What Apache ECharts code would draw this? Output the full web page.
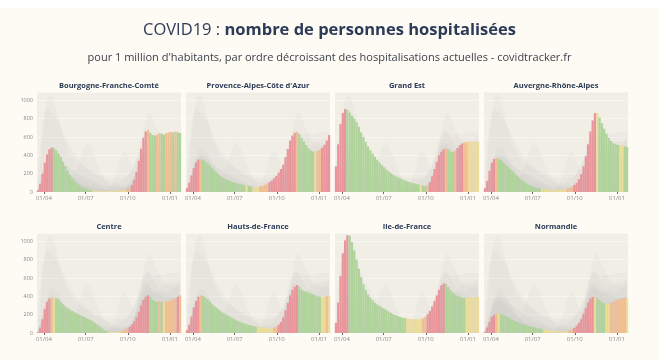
<!DOCTYPE html>
<html><head><meta charset="utf-8">
<script src="https://cdn.jsdelivr.net/npm/echarts@6/dist/echarts.min.js"></script>
<style>
html,body{margin:0;padding:0;background:#fdfbf4;}
#chart{width:659px;height:360px;}
#topstrip{position:absolute;left:0;top:0;width:659px;height:8px;background:#ffffff;}
</style>
</head><body>
<div id="chart"></div><div id="topstrip"></div>
<script>
// ---- DATA ----
const dates = ['2020-03-19','2020-03-24','2020-03-29','2020-04-03','2020-04-08','2020-04-13','2020-04-18','2020-04-23','2020-04-28','2020-05-03',
'2020-05-08','2020-05-13','2020-05-18','2020-05-23','2020-05-28','2020-06-02','2020-06-07','2020-06-12','2020-06-17','2020-06-22',
'2020-06-27','2020-07-02','2020-07-07','2020-07-12','2020-07-17','2020-07-22','2020-07-27','2020-08-01','2020-08-06','2020-08-11',
'2020-08-16','2020-08-21','2020-08-26','2020-08-31','2020-09-05','2020-09-10','2020-09-15','2020-09-20','2020-09-25','2020-09-30',
'2020-10-05','2020-10-10','2020-10-15','2020-10-20','2020-10-25','2020-10-30','2020-11-04','2020-11-09','2020-11-14','2020-11-19',
'2020-11-24','2020-11-29','2020-12-04','2020-12-09','2020-12-14','2020-12-19','2020-12-24','2020-12-29','2021-01-03','2021-01-08',
'2021-01-13','2021-01-18','2021-01-23'];

const tickDates = ['2020-04-01','2020-07-01','2020-10-01','2021-01-01'];
const tickLabels = ['01/04','01/07','01/10','01/01'];
const yTicks = [0,200,400,600,800,1000];

const bourgogne = [20,90,200,320,410,465,485,480,455,420, 380,330,280,230,185,150,120,95,75,58, 45,35,28,22,18,15,12,10,10,9, 9,10,11,12,14,16,18,20,24,30, 45,75,130,220,340,470,590,660,675,645, 620,615,625,640,635,625,640,650,655,650, 660,650,645];
const paca = [40,100,180,260,320,352,358,350,335,315, 290,262,235,212,190,170,152,138,126,116, 108,100,93,86,80,74,70,65,60,56, 54,55,60,68,78,92,108,125,150,175, 210,250,300,380,470,560,615,645,655,630, 590,550,510,478,455,442,440,450,462,485, 515,560,620];
const grandEst = [280,520,740,860,905,895,865,830,800,760, 710,650,600,545,495,455,420,385,352,322, 295,270,245,225,205,188,172,160,148,137, 128,118,110,102,95,88,82,78,72,62, 70,105,170,250,330,400,440,465,475,462, 440,435,450,480,510,530,540,545,548,550, 550,548,545];
const ara = [40,120,230,320,360,372,365,348,325,300, 275,250,228,205,180,155,130,112,95,80, 68,58,50,44,38,34,30,28,26,24, 22,22,22,23,26,30,36,45,60,78, 100,140,195,280,390,520,660,780,860,860, 810,750,690,635,590,555,530,520,512,508, 505,498,490];
const centre = [10,60,150,260,340,378,385,388,380,368, 340,312,290,272,255,240,226,212,200,188, 176,165,152,140,125,108,90,70,48,30, 18,14,12,12,13,15,18,24,34,48, 65,90,125,170,230,300,360,395,412,395, 360,345,340,345,338,335,340,345,355,365, 378,395,410];
const hautsDeFrance = [30,90,180,280,350,395,410,405,390,370, 340,315,292,272,252,234,218,202,188,172, 158,145,132,122,112,104,95,88,82,76, 70,66,62,59,57,55,54,55,60,68, 90,120,170,250,330,410,470,505,522,505, 475,460,450,442,432,420,410,400,395,392, 395,400,402];
const ileDeFrance = [110,330,620,870,1010,1065,1060,990,900,800, 700,610,530,470,420,385,355,330,310,292, 278,265,250,235,220,205,195,185,175,168, 162,158,155,152,150,150,150,152,160,175, 205,240,290,350,410,470,520,540,535,500, 465,440,420,405,395,385,380,382,385,388, 390,392,390];
const normandie = [15,60,120,175,200,212,215,208,198,186, 172,158,145,132,120,110,100,92,84,78, 72,66,60,54,48,42,38,34,30,26, 23,20,18,17,17,18,22,28,38,55, 78,108,150,210,270,330,375,392,390,378, 360,335,322,318,320,328,340,352,362,370, 375,380,382];
// regions only present in the grey background
const guyane = [2,3,4,5,5,5,5,5,5,6, 8,12,20,40,80,130,190,260,340,420, 490,525,530,500,440,370,300,240,190,150, 120,95,75,60,50,45,40,40,42,45, 45,48,50,52,55,55,52,50,48,46, 45,44,42,40,40,40,40,42,44,45, 46,46,45];
const guadeloupe = [5,8,10,10,10,9,8,7,6,5, 5,5,5,5,5,5,5,5,5,5, 5,5,5,5,6,7,8,10,12,15, 20,40,70,120,190,280,370,435,450,410, 340,270,220,190,170,150,135,120,110,100, 95,90,88,86,85,84,84,85,86,88, 90,90,90];

const panelNames = ['Bourgogne-Franche-Comté',"Provence-Alpes-Côte d'Azur",'Grand Est','Auvergne-Rhône-Alpes','Centre','Hauts-de-France','Ile-de-France','Normandie'];
const panelSeries = [bourgogne, paca, grandEst, ara, centre, hautsDeFrance, ileDeFrance, normandie];
const backgroundSeries = [bourgogne, paca, grandEst, ara, centre, hautsDeFrance, ileDeFrance, normandie, guyane, guadeloupe];

// ---- LAYOUT / STYLE ----
const colLefts = [37, 186, 335, 484];
const rowTops = [92, 233];
const PW = 144, PH = 100;
const navy = '#2c3a57';
const COLORS = {up: '#e8959b', mild: '#f1bd93', flat: '#ecdc9c', down: '#afd39a'};

const DAY = 86400000;
const t0 = Date.parse(dates[0]);
const dayIdx = dates.map(d => Math.round((Date.parse(d) - t0) / DAY));
const tickDays = tickDates.map(d => Math.round((Date.parse(d) - t0) / DAY));

function colorFor(vals, k) {
  if (k === 0) return COLORS.up;
  const diff = vals[k] - vals[k - 1];
  if (diff > 15) return COLORS.up;
  if (diff > 4) return COLORS.mild;
  if (diff >= -4) return COLORS.flat;
  return COLORS.down;
}

const grids = [], xAxes = [], yAxes = [], series = [], graphics = [];
panelSeries.forEach((vals, i) => {
  const col = i % 4, row = Math.floor(i / 4);
  grids.push({left: colLefts[col], top: rowTops[row], width: PW, height: PH, show: true,
    backgroundColor: '#f1eee6', borderWidth: 0});
  xAxes.push({type: 'value', gridIndex: i, min: -2, max: 312,
    axisLine: {show: false},
    axisTick: {show: true, customValues: tickDays, length: 2, lineStyle: {color: '#666', width: 1}},
    axisLabel: {customValues: tickDays, formatter: v => tickLabels[tickDays.indexOf(v)] || '',
      fontSize: 6, color: '#8a8a8a', margin: 3, fontFamily: 'Open Sans'},
    splitLine: {show: false}});
  yAxes.push({type: 'value', gridIndex: i, min: 0, max: 1090, interval: 200,
    axisLine: {show: false}, axisTick: {show: false},
    axisLabel: {show: col === 0, fontSize: 5.5, color: '#8a8a8a', margin: 4, fontFamily: 'Open Sans',
      formatter: v => (yTicks.indexOf(v) >= 0 ? String(v) : '')},
    splitLine: {show: true, lineStyle: {color: 'rgba(255,255,255,0.5)', width: 0.8}}});
  backgroundSeries.forEach(bg => {
    series.push({type: 'line', xAxisIndex: i, yAxisIndex: i, silent: true, z: 1,
      symbol: 'none', lineStyle: {width: 0}, areaStyle: {color: 'rgba(190,188,184,0.12)'},
      data: dayIdx.map((d, k) => [d, bg[k]])});
  });
  series.push({type: 'bar', xAxisIndex: i, yAxisIndex: i, z: 3, barWidth: 2.2, silent: true,
    data: dayIdx.map((d, k) => ({value: [d, vals[k]], itemStyle: {color: colorFor(vals, k)}}))});
  graphics.push({type: 'text', x: colLefts[col] + PW / 2, y: rowTops[row] - 6,
    style: {text: panelNames[i], textAlign: 'center', textVerticalAlign: 'middle',
      font: 'bold 7.5px "Open Sans"', fill: navy}});
});

const chart = echarts.init(document.getElementById('chart'));
chart.setOption({
  backgroundColor: '#fdfbf4',
  animation: false,
  title: [
    {text: '{a|COVID19 : }{b|nombre de personnes hospitalisées}', left: 'center', top: 17,
      textStyle: {fontWeight: 'normal', rich: {
        a: {fontSize: 16.5, fontFamily: 'Open Sans', fontWeight: 'normal', color: navy},
        b: {fontSize: 16.5, fontFamily: 'Open Sans', fontWeight: 'bold', color: navy}}}},
    {text: "pour 1 million d'habitants, par ordre décroissant des hospitalisations actuelles - covidtracker.fr",
      left: 'center', top: 47, textStyle: {fontSize: 11, fontWeight: 'normal', fontFamily: 'Open Sans', color: '#3a3f4a'}}
  ],
  grid: grids, xAxis: xAxes, yAxis: yAxes, series: series, graphic: graphics
});
</script>
</body></html>
